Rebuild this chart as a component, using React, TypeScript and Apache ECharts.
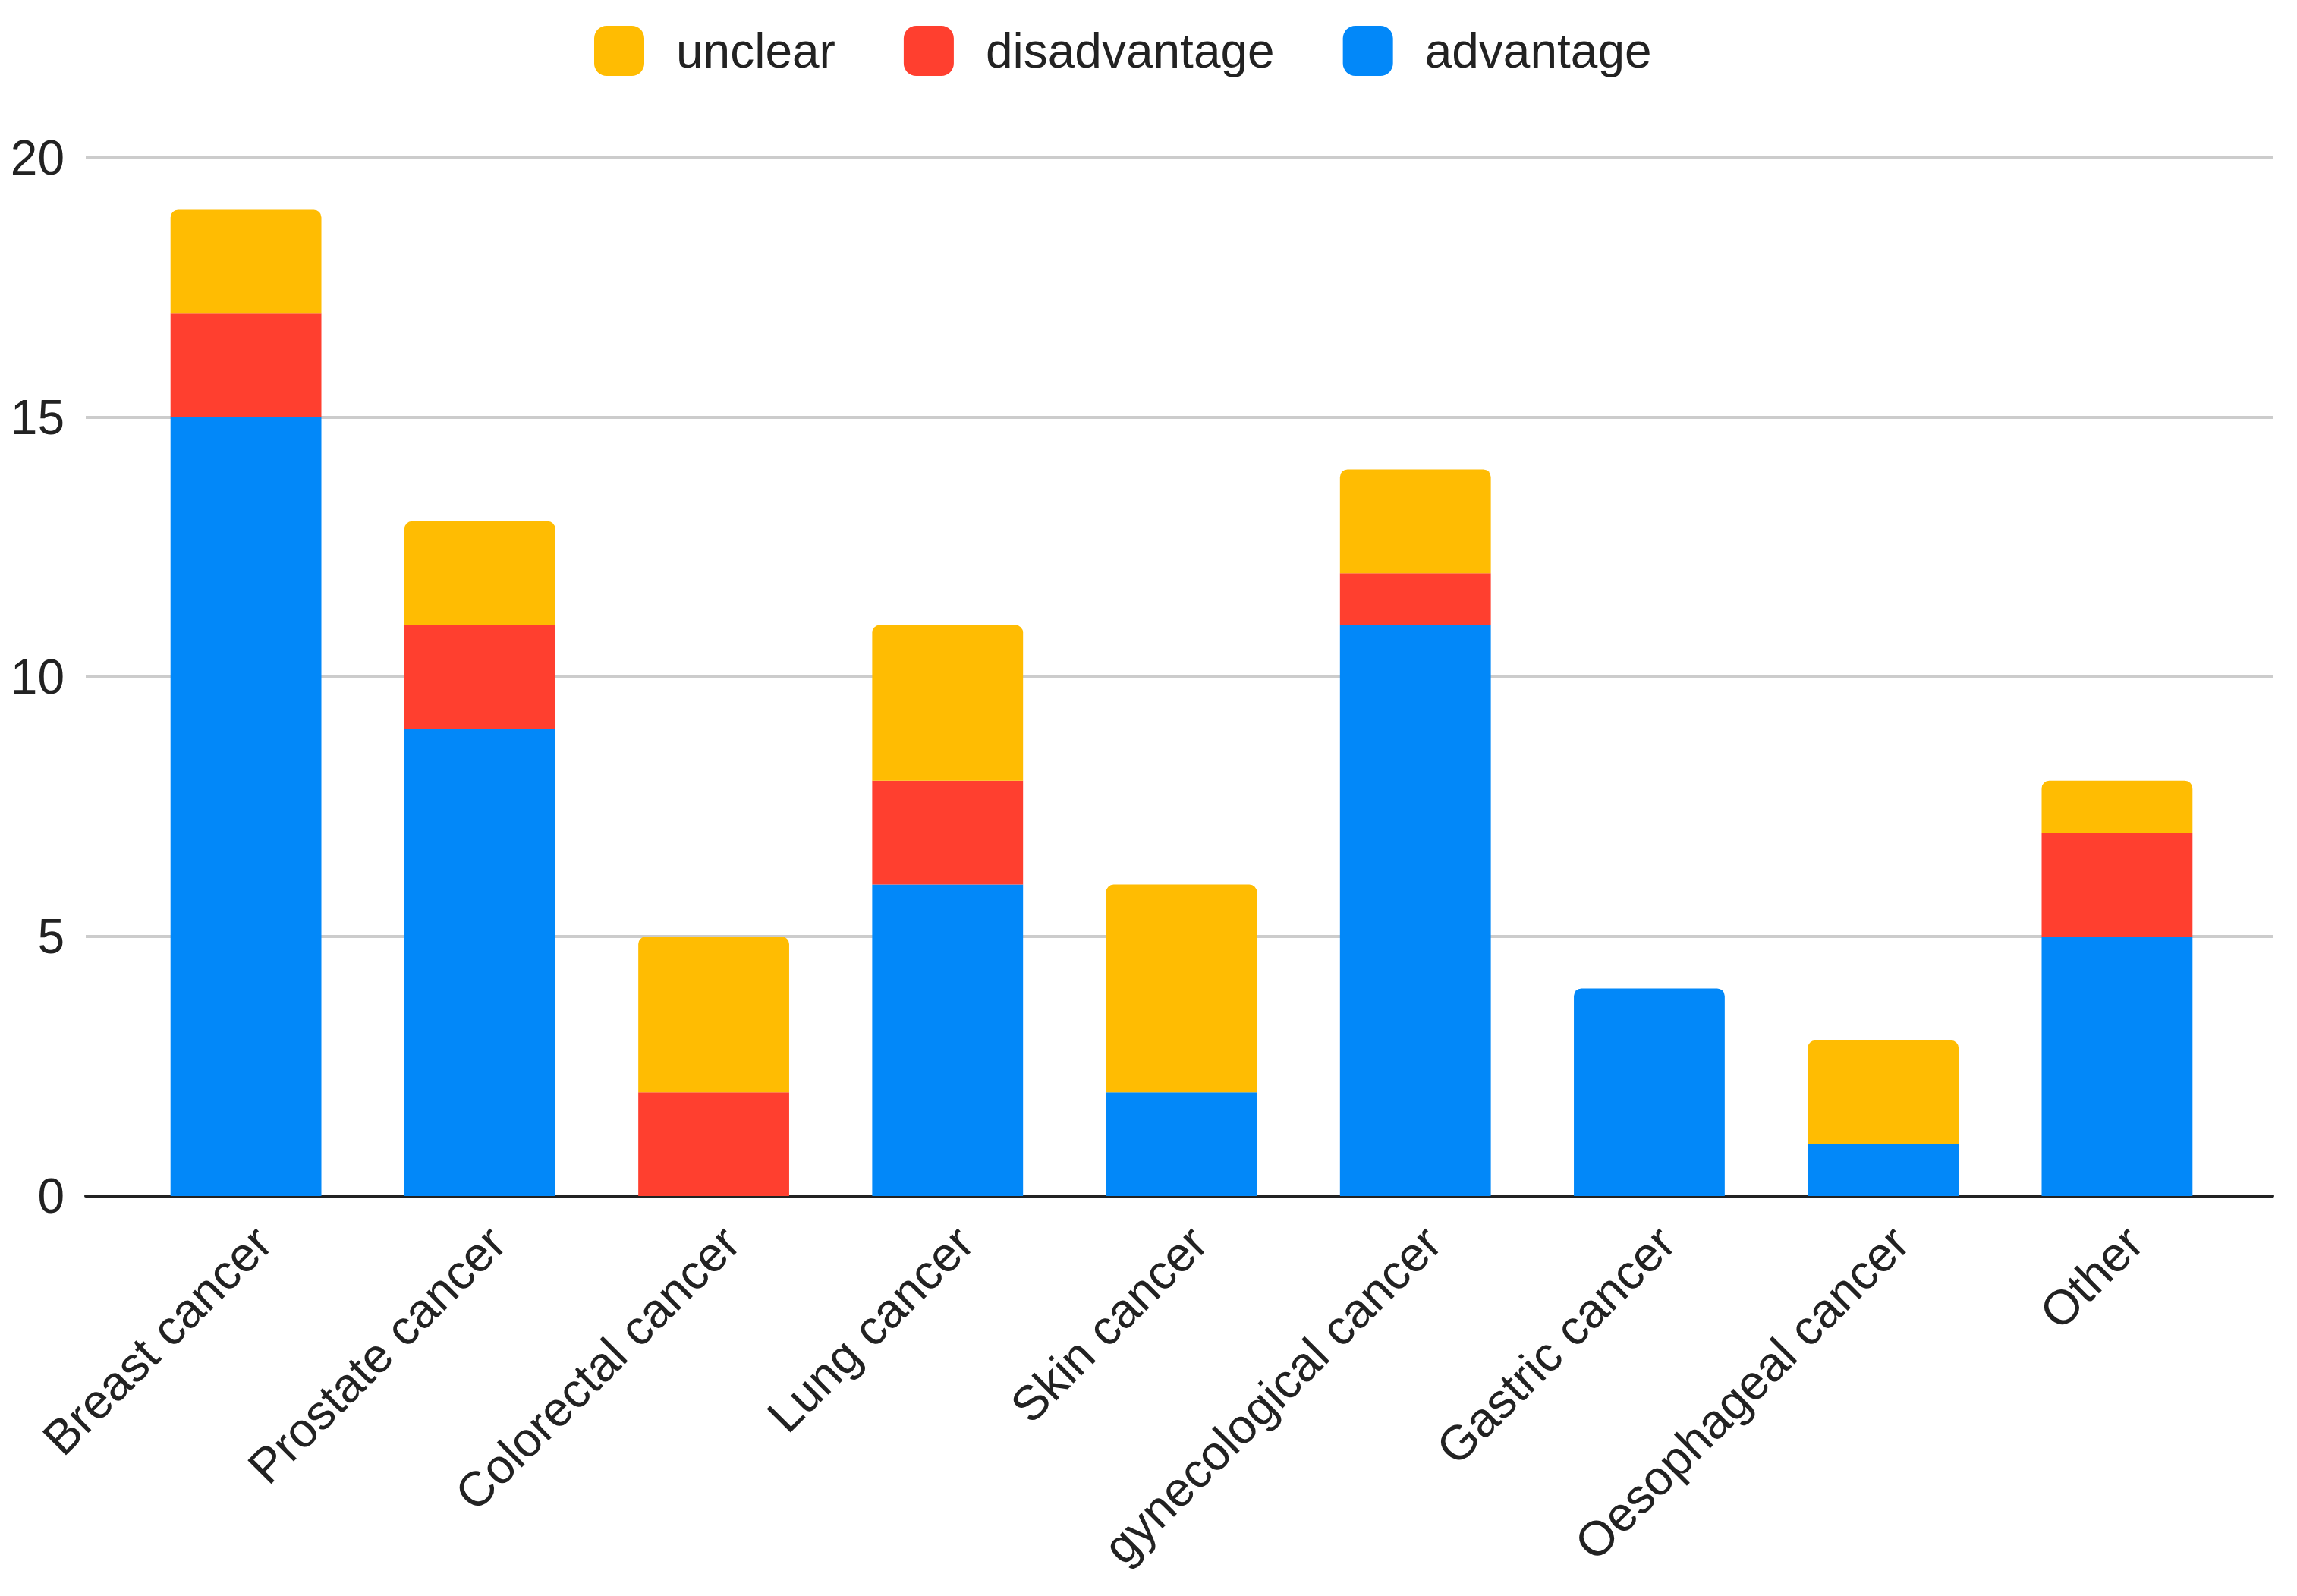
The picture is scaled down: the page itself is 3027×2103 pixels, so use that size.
import React, { useEffect, useRef } from "react";
import * as echarts from "echarts";

const categories = [
  "Breast cancer",
  "Prostate cancer",
  "Colorectal cancer",
  "Lung cancer",
  "Skin cancer",
  "gynecological cancer",
  "Gastric cancer",
  "Oesophageal cancer",
  "Other",
];
const advantage = [15, 9, 0, 6, 2, 11, 4, 1, 5];
const disadvantage = [2, 2, 2, 2, 0, 1, 0, 0, 2];
const unclear = [2, 2, 3, 3, 4, 2, 0, 2, 1];
const yTicks = { min: 0, max: 20, interval: 5 };

const COLORS = { unclear: "#FFBC02", disadvantage: "#FF3F2F", advantage: "#0288F9" };
const FONT = "'Liberation Sans', Arial, sans-serif";
const TEXT = "#222222";

export default function App() {
  const ref = useRef<HTMLDivElement>(null);
  useEffect(() => {
    document.body.style.margin = "0";
    if (!ref.current) return;
    const chart = echarts.init(ref.current, undefined, { renderer: "svg" });
    const stackOrder = [advantage, disadvantage, unclear];
    const topIndex = categories.map((_, i) => {
      let top = -1;
      stackOrder.forEach((arr, s) => {
        if (arr[i] > 0) top = s;
      });
      return top;
    });
    const mk = (arr: number[], s: number) =>
      arr.map((v, i) => ({
        value: v,
        itemStyle: { borderRadius: topIndex[i] === s ? [10, 10, 0, 0] : 0 },
      }));
    const base = {
      type: "bar" as const,
      stack: "total",
      xAxisIndex: 1,
      yAxisIndex: 1,
      barWidth: "64.5%",
    };
    chart.setOption({
      animation: false,
      backgroundColor: "#ffffff",
      textStyle: { fontFamily: FONT },
      legend: {
        left: 778,
        top: 29,
        itemWidth: 66,
        itemHeight: 66,
        itemGap: 90,
        icon: "roundRect",
        selectedMode: false,
        data: ["unclear", "disadvantage", "advantage"],
        textStyle: { fontSize: 64, color: TEXT, fontFamily: FONT, padding: [0, 0, 0, 37] },
      },
      grid: [
        { left: 113, right: 32, top: 208, bottom: 527 },
        { left: 170, right: 83, top: 208, bottom: 527 },
      ],
      xAxis: [
        {
          type: "category",
          gridIndex: 0,
          data: categories,
          axisLine: { show: true, lineStyle: { color: "#222222", width: 4 } },
          axisTick: { show: false },
          axisLabel: { show: false },
          splitLine: { show: false },
        },
        {
          type: "category",
          gridIndex: 1,
          data: categories,
          axisLine: { show: false },
          axisTick: { show: false },
          splitLine: { show: false },
          axisLabel: {
            interval: 0,
            rotate: 45,
            verticalAlign: "top",
            margin: 28,
            fontSize: 64,
            color: TEXT,
            fontFamily: FONT,
          },
        },
      ],
      yAxis: [
        {
          type: "value",
          gridIndex: 0,
          min: yTicks.min,
          max: yTicks.max,
          interval: yTicks.interval,
          axisLine: { show: false },
          axisTick: { show: false },
          axisLabel: { fontSize: 64, color: TEXT, fontFamily: FONT, margin: 28 },
          splitLine: { show: true, lineStyle: { color: "#CCCCCC", width: 4 } },
        },
        {
          type: "value",
          gridIndex: 1,
          min: yTicks.min,
          max: yTicks.max,
          interval: yTicks.interval,
          show: false,
          splitLine: { show: false },
        },
      ],
      series: [
        { ...base, name: "advantage", itemStyle: { color: COLORS.advantage }, data: mk(advantage, 0) },
        { ...base, name: "disadvantage", itemStyle: { color: COLORS.disadvantage }, data: mk(disadvantage, 1) },
        { ...base, name: "unclear", itemStyle: { color: COLORS.unclear }, data: mk(unclear, 2) },
      ],
    });
    return () => chart.dispose();
  }, []);
  return (
    <div
      ref={ref}
      style={{ position: "absolute", left: 0, top: 0, width: 3027, height: 2103 }}
    />
  );
}
